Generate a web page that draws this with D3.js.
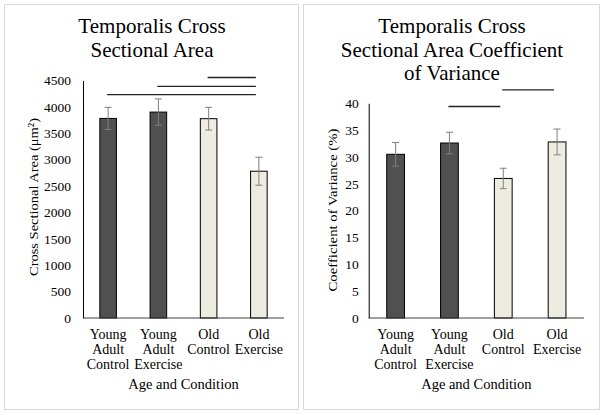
<!DOCTYPE html>
<html><head><meta charset="utf-8">
<script src="https://cdn.jsdelivr.net/npm/d3@7"></script>
<style>body{margin:0;background:#fff}svg{display:block}text{font-family:"Liberation Serif","Times New Roman",serif;fill:#000}</style>
</head><body><svg id="c" width="604" height="415"></svg>
<script>
const categories = [["Young","Adult","Control"],["Young","Adult","Exercise"],["Old","Control"],["Old","Exercise"]];
const groupColors = ["#505050","#505050","#eeece1","#eeece1"];
const areaValues = [3780, 3900, 3775, 2780];
const areaErrors = [210, 250, 215, 265];
const areaTicks = [0,500,1000,1500,2000,2500,3000,3500,4000,4500];
const areaSig = [{from:0,to:3,y:4230},{from:1,to:3,y:4385},{from:2,to:3,y:4555}];
const cvValues = [30.5, 32.6, 26.0, 32.8];
const cvErrors = [2.2, 2.0, 1.9, 2.4];
const cvTicks = [0,5,10,15,20,25,30,35,40];
const cvSig = [{from:1,to:2,y:39.4},{from:2,to:3,y:42.5}];

const svg = d3.select("#c");

function panel(o){
  const g = svg.append("g");
  g.append("rect").attr("x",o.px).attr("y",4.5).attr("width",o.pw).attr("height",405)
    .attr("fill","#fff").attr("stroke","#d9d9d9").attr("stroke-width",1);
  const x = d3.scaleBand().domain(d3.range(categories.length)).range([o.x0,o.x1]).paddingInner(0.67).paddingOuter(0.335);
  const y = d3.scaleLinear().domain([0,o.max]).range([318,o.yTop]);
  o.title.forEach((t,i)=>g.append("text").attr("x",o.tx).attr("y",33+i*23.5).attr("text-anchor","middle")
    .style("font-size","21px").text(t));
  const ya = g.append("g").attr("transform",`translate(${o.x0},0)`)
    .call(d3.axisLeft(y).tickValues(o.ticks).tickFormat(d3.format("d")).tickSize(0).tickPadding(o.pad));
  ya.select(".domain").attr("stroke","#000").attr("stroke-width",1);
  ya.selectAll("text").style("font-size","13.5px").style("font-family","Liberation Serif").attr("fill","#000");
  g.append("text").attr("transform",`translate(${o.ytx},${o.ytc}) rotate(-90)`)
    .attr("text-anchor","middle").attr("dy","0.35em").style("font-size","13.5px")
    .attr("textLength",o.ylen).attr("lengthAdjust","spacingAndGlyphs").text(o.ytitle);
  g.selectAll(".bar").data(o.values).enter().append("rect")
    .attr("x",(d,i)=>x(i)).attr("width",x.bandwidth())
    .attr("y",d=>y(d)).attr("height",d=>y(0)-y(d))
    .attr("fill",(d,i)=>groupColors[i]).attr("stroke","#000").attr("stroke-width",1);
  g.append("line").attr("x1",o.x0).attr("x2",o.x1).attr("y1",y(0)).attr("y2",y(0)).attr("stroke","#404040").attr("stroke-width",1.2);
  o.values.forEach((v,i)=>{
    const cx = x(i)+x.bandwidth()/2, e=o.errors[i];
    g.append("line").attr("x1",cx).attr("x2",cx).attr("y1",y(v+e)).attr("y2",y(v-e)).attr("stroke","#7f7f7f").attr("stroke-width",1);
    [v+e,v-e].forEach(w=>g.append("line").attr("x1",cx-3.5).attr("x2",cx+3.5).attr("y1",y(w)).attr("y2",y(w)).attr("stroke","#7f7f7f").attr("stroke-width",1));
  });
  o.sig.forEach(s=>{
    g.append("line").attr("x1",x(s.from)+x.bandwidth()/2-1).attr("x2",x(s.to)+x.bandwidth()/2-3)
      .attr("y1",y(s.y)).attr("y2",y(s.y)).attr("stroke","#222").attr("stroke-width",1.3);
  });
  categories.forEach((c,i)=>{
    const cx = x(i)+x.bandwidth()/2;
    c.forEach((l,j)=>g.append("text").attr("x",cx).attr("y",339+j*15).attr("text-anchor","middle").style("font-size","14px").text(l));
  });
  g.append("text").attr("x",(o.x0+o.x1)/2).attr("y",389).attr("text-anchor","middle").style("font-size","14.5px").text("Age and Condition");
}

panel({px:4.5,pw:294,x0:83,x1:284,max:4500,yTop:80.4,ticks:areaTicks,values:areaValues,errors:areaErrors,sig:areaSig,
  title:["Temporalis Cross","Sectional Area"],tx:152,ytx:33,ytc:197,ylen:158,pad:12,
  ytitle:"Cross Sectional Area (μm²)"});
panel({px:303.5,pw:296,x0:368.7,x1:584,max:40,yTop:103.3,ticks:cvTicks,values:cvValues,errors:cvErrors,sig:cvSig,
  title:["Temporalis Cross","Sectional Area Coefficient","of Variance"],tx:452,ytx:332,ytc:210,ylen:163,pad:10,
  ytitle:"Coefficient of Variance (%)"});
</script></body></html>
